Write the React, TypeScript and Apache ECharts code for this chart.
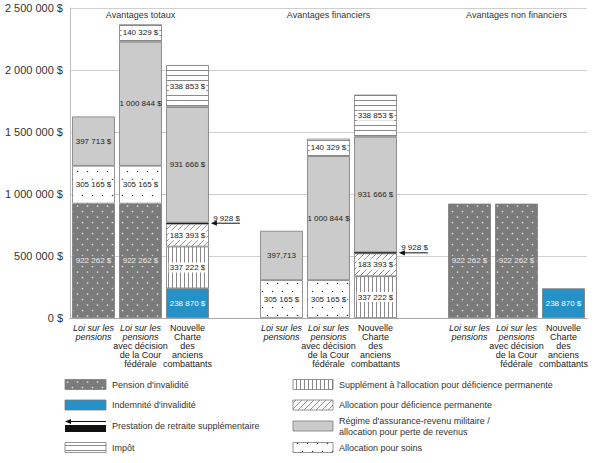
import React, { useEffect, useRef } from 'react';
import * as echarts from 'echarts';

// ---- Data ----
const categories = [
  'Loi sur les pensions',
  'Loi sur les pensions avec décision de la Cour fédérale',
  'Nouvelle Charte des anciens combattants',
  '',
  'Loi sur les pensions',
  'Loi sur les pensions avec décision de la Cour fédérale',
  'Nouvelle Charte des anciens combattants',
  '',
  'Loi sur les pensions',
  'Loi sur les pensions avec décision de la Cour fédérale',
  'Nouvelle Charte des anciens combattants',
];
const groupTitles = ['', 'Avantages totaux', '', '', '', 'Avantages financiers', '', '', '', 'Avantages non financiers', ''];

const pension = [922262, 922262, null, null, null, null, null, null, 922262, 922262, null];
const indemnite = [null, null, 238870, null, null, null, null, null, null, null, 238870];
const supplementAldp = [null, null, 337222, null, null, null, 337222, null, null, null, null];
const aldp = [null, null, 183393, null, null, null, 183393, null, null, null, null];
const prs = [null, null, 9928, null, null, null, 9928, null, null, null, null];
const soins = [305165, 305165, null, null, 305165, 305165, null, null, null, null, null];
const alr = [397713, 1000844, 931666, null, 397713, 1000844, 931666, null, null, null, null];
const impot = [null, 140329, 338853, null, null, 140329, 338853, null, null, null, null];

const yTicks = { min: 0, max: 2500000, interval: 500000 };

const NAMES = {
  pension: "Pension d'invalidité",
  indemnite: "Indemnité d'invalidité",
  prs: 'Prestation de retraite supplémentaire',
  impot: 'Impôt',
  supp: "Supplément à l'allocation pour déficience permanente",
  aldp: 'Allocation pour déficience permanente',
  alr: "Régime d'assurance-revenu militaire /\nallocation pour perte de revenus",
  soins: 'Allocation pour soins',
};

const SANS = '"Liberation Sans", Arial, Helvetica, sans-serif';

const fmt = (n: number) => String(Math.round(n)).replace(/\B(?=(\d{3})+(?!\d))/g, ' ') + ' $';

function makePattern(w: number, h: number, draw: (ctx: CanvasRenderingContext2D) => void) {
  const c = document.createElement('canvas');
  c.width = w;
  c.height = h;
  const ctx = c.getContext('2d')!;
  draw(ctx);
  return { image: c.toDataURL(), repeat: 'repeat', imageWidth: w, imageHeight: h } as any;
}

const BAR_RATIO = 0.91;

export default function App() {
  const ref = useRef<HTMLDivElement>(null);

  useEffect(() => {
    document.body.style.margin = '0';
    if (!ref.current) return;
    const chart = echarts.init(ref.current, undefined, { renderer: 'svg' });

    const GRAY_PI = '#7b7b7b';
    const BLUE = '#2591c6';
    const LIGHT = '#cbcbcb';

    const patPI = makePattern(10, 11, (ctx) => {
      ctx.fillStyle = GRAY_PI;
      ctx.fillRect(0, 0, 10, 11);
      ctx.fillStyle = '#e2e2e2';
      ctx.beginPath(); ctx.arc(2.5, 2.5, 0.85, 0, Math.PI * 2); ctx.fill();
      ctx.beginPath(); ctx.arc(7.5, 8, 0.85, 0, Math.PI * 2); ctx.fill();
    });
    const patSoins = makePattern(10, 16, (ctx) => {
      ctx.fillStyle = '#fff';
      ctx.fillRect(0, 0, 10, 16);
      ctx.fillStyle = '#333';
      ctx.beginPath(); ctx.arc(2.5, 3.5, 0.75, 0, Math.PI * 2); ctx.fill();
      ctx.beginPath(); ctx.arc(7.5, 11.5, 0.75, 0, Math.PI * 2); ctx.fill();
    });
    const patImpot = makePattern(4, 5, (ctx) => {
      ctx.fillStyle = '#fff';
      ctx.fillRect(0, 0, 4, 5);
      ctx.fillStyle = '#8a8a8a';
      ctx.fillRect(0, 0, 4, 1);
    });
    const patSupp = makePattern(4, 4, (ctx) => {
      ctx.fillStyle = '#fff';
      ctx.fillRect(0, 0, 4, 4);
      ctx.fillStyle = '#8a8a8a';
      ctx.fillRect(0, 0, 1, 4);
    });
    const patAldp = makePattern(6, 6, (ctx) => {
      ctx.fillStyle = '#fff';
      ctx.fillRect(0, 0, 6, 6);
      ctx.strokeStyle = '#7a7a7a';
      ctx.lineWidth = 0.8;
      ctx.beginPath();
      ctx.moveTo(0, 6); ctx.lineTo(6, 0);
      ctx.moveTo(-1, 1); ctx.lineTo(1, -1);
      ctx.moveTo(5, 7); ctx.lineTo(7, 5);
      ctx.stroke();
    });

    const seriesDefs = [
      { key: 'pension', name: NAMES.pension, data: pension, fill: patPI, border: GRAY_PI, labelColor: '#ececec', labelBg: GRAY_PI },
      { key: 'indemnite', name: NAMES.indemnite, data: indemnite, fill: BLUE, border: '#7a7a7a', labelColor: '#ffffff', labelBg: null },
      { key: 'supp', name: NAMES.supp, data: supplementAldp, fill: patSupp, border: '#7a7a7a', labelColor: '#222', labelBg: '#fff' },
      { key: 'aldp', name: NAMES.aldp, data: aldp, fill: patAldp, border: '#7a7a7a', labelColor: '#222', labelBg: '#fff' },
      { key: 'prs', name: NAMES.prs, data: prs, fill: '#111', border: '#111', labelColor: '#222', labelBg: null },
      { key: 'soins', name: NAMES.soins, data: soins, fill: patSoins, border: '#7a7a7a', labelColor: '#222', labelBg: '#fff' },
      { key: 'alr', name: NAMES.alr, data: alr, fill: LIGHT, border: '#7a7a7a', labelColor: '#222', labelBg: null },
      { key: 'impot', name: NAMES.impot, data: impot, fill: patImpot, border: '#7a7a7a', labelColor: '#222', labelBg: '#fff' },
    ];

    const barSeries = seriesDefs.map((d) => ({
      type: 'bar',
      name: d.name,
      stack: 'total',
      data: d.data,
      barWidth: BAR_RATIO * 100 + '%',
      itemStyle: { color: d.fill, borderColor: d.border, borderWidth: 0.8 },
      label: {
        show: d.key !== 'prs',
        position: 'inside',
        fontFamily: SANS,
        fontSize: 8,
        color: d.labelColor,
        backgroundColor: d.labelBg || 'transparent',
        padding: [1, 1],
        formatter: (p: any) => (d.key === 'alr' && p.dataIndex === 4 ? '397,713' : fmt(p.value)),
      },
      emphasis: { disabled: true },
      silent: true,
    }));

    // PRS annotation (arrow + label) positioned through the axes
    const prsAnnot: number[][] = [];
    prs.forEach((v, i) => {
      if (v == null) return;
      const base = (pension[i] || 0) + (indemnite[i] || 0) + (supplementAldp[i] || 0) + (aldp[i] || 0);
      prsAnnot.push([i, base + v / 2, v]);
    });

    const annotSeries = {
      type: 'custom',
      silent: true,
      z: 10,
      data: prsAnnot,
      renderItem: (params: any, api: any) => {
        const c = api.coord([api.value(0), api.value(1)]);
        const half = (api.size([1, 0])[0] * BAR_RATIO) / 2;
        const x0 = c[0] + half + 2;
        const x1 = x0 + 29;
        const y = c[1];
        return {
          type: 'group',
          children: [
            { type: 'line', shape: { x1: x0 + 5, y1: y, x2: x1, y2: y }, style: { stroke: '#111', lineWidth: 1 } },
            { type: 'polygon', shape: { points: [[x0, y], [x0 + 6, y - 2.6], [x0 + 6, y + 2.6]] }, style: { fill: '#111' } },
            {
              type: 'text',
              style: {
                text: fmt(api.value(2)),
                x: x1,
                y: y - 1,
                align: 'right',
                verticalAlign: 'bottom',
                fontSize: 8,
                fontFamily: SANS,
                fill: '#222',
              },
            },
          ],
        };
      },
    };

    const catLabel = (name: string) => {
      if (name === 'Loi sur les pensions') return '{i|Loi sur les}\n{i|pensions}';
      if (name === 'Loi sur les pensions avec décision de la Cour fédérale')
        return '{i|Loi sur les}\n{i|pensions}\n{n|avec décision}\n{n|de la Cour}\n{n|fédérale}';
      if (name === 'Nouvelle Charte des anciens combattants')
        return '{n|Nouvelle}\n{n|Charte}\n{n|des}\n{n|anciens}\n{n|combattants}';
      return '';
    };

    // Legend (drawn as graphic elements)
    const legendLeft = [
      { name: NAMES.pension, fill: patPI, stroke: GRAY_PI },
      { name: NAMES.indemnite, fill: BLUE, stroke: '#7a7a7a' },
      { name: NAMES.prs, fill: 'prs', stroke: null },
      { name: NAMES.impot, fill: patImpot, stroke: '#7a7a7a' },
    ];
    const legendRight = [
      { name: NAMES.supp, fill: patSupp, stroke: '#7a7a7a' },
      { name: NAMES.aldp, fill: patAldp, stroke: '#7a7a7a' },
      { name: NAMES.alr, fill: LIGHT, stroke: '#7a7a7a' },
      { name: NAMES.soins, fill: patSoins, stroke: '#7a7a7a' },
    ];
    const rowY = [384.5, 405, 426, 447.5];
    const graphics: any[] = [];
    const addCol = (items: any[], sx: number, sw: number, tx: number) => {
      items.forEach((it, k) => {
        const cy = rowY[k];
        if (it.fill === 'prs') {
          graphics.push({ type: 'line', shape: { x1: sx + 5, y1: cy - 4.5, x2: sx + sw, y2: cy - 4.5 }, style: { stroke: '#111', lineWidth: 1 } });
          graphics.push({ type: 'polygon', shape: { points: [[sx, cy - 4.5], [sx + 6, cy - 7], [sx + 6, cy - 2]] }, style: { fill: '#111' } });
          graphics.push({ type: 'rect', shape: { x: sx, y: cy - 1, width: sw, height: 7 }, style: { fill: '#111' } });
        } else {
          graphics.push({
            type: 'rect',
            shape: { x: sx, y: cy - 5, width: sw, height: 10 },
            style: { fill: it.fill, stroke: it.stroke, lineWidth: 0.8 },
          });
        }
        graphics.push({
          type: 'text',
          style: {
            text: it.name,
            x: tx,
            y: cy,
            verticalAlign: 'middle',
            fontSize: 9,
            lineHeight: 11,
            fontFamily: SANS,
            fill: '#333',
          },
        });
      });
    };
    addCol(legendLeft, 65, 41, 112);
    addCol(legendRight, 293, 40, 339);

    chart.setOption({
      animation: false,
      grid: { left: 70, right: 13, top: 8, bottom: 145, containLabel: false, outerBoundsMode: 'none' },
      xAxis: [
        {
          type: 'category',
          data: categories,
          axisLine: { show: true, lineStyle: { color: '#a8a8a8', width: 1 } },
          axisTick: { show: false },
          axisLabel: {
            interval: 0,
            margin: 5,
            formatter: (v: string) => catLabel(v),
            rich: {
              i: { fontStyle: 'italic', fontSize: 9, lineHeight: 9.2, fontFamily: SANS, color: '#222' },
              n: { fontSize: 9, lineHeight: 9.2, fontFamily: SANS, color: '#222' },
            },
          },
        },
        {
          type: 'category',
          position: 'top',
          data: groupTitles,
          axisLine: { show: false },
          axisTick: { show: false },
          splitLine: { show: false },
          axisLabel: {
            inside: true,
            interval: 0,
            margin: 2,
            fontSize: 9,
            fontFamily: SANS,
            color: '#333',
          },
        },
      ],
      yAxis: {
        type: 'value',
        min: yTicks.min,
        max: yTicks.max,
        interval: yTicks.interval,
        axisLine: { show: true, lineStyle: { color: '#bdbdbd' } },
        axisTick: { show: false },
        splitLine: { show: true, lineStyle: { color: '#cfcfcf', width: 1 } },
        axisLabel: { formatter: (v: number) => fmt(v), fontSize: 11, fontFamily: SANS, color: '#333', margin: 7 },
      },
      series: [...barSeries, annotSeries],
      graphic: graphics,
    });

    return () => chart.dispose();
  }, []);

  return <div ref={ref} style={{ width: 600, height: 463 }} />;
}
